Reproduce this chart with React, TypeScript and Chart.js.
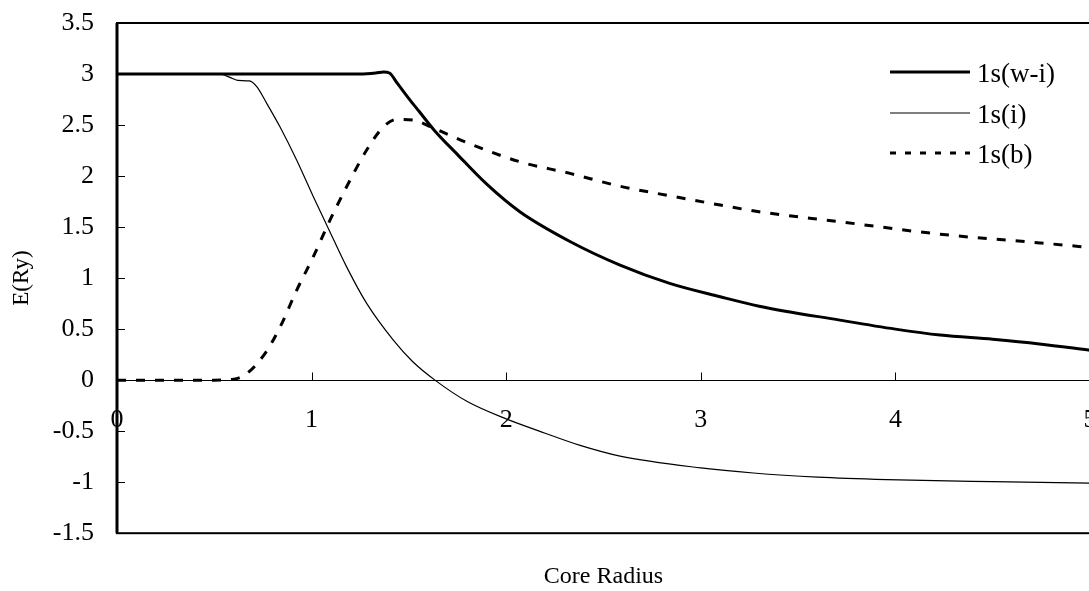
import React, { useEffect, useRef } from "react";
import { Chart, registerables } from "chart.js";

Chart.register(...registerables);

// ---- data ----
const seriesLabels = ["1s(w-i)", "1s(i)", "1s(b)"];
const xTickValues = [0, 1, 2, 3, 4, 5];
const yTickValues = [-1.5, -1, -0.5, 0, 0.5, 1, 1.5, 2, 2.5, 3, 3.5];

const wiRadius = [0, 0.5, 1.0, 1.25, 1.33, 1.37, 1.40, 1.44, 1.52, 1.55, 1.63, 1.75, 1.90, 2.07, 2.33, 2.585, 2.84, 3.1, 3.3, 3.715, 4.0, 4.23, 4.5, 4.74, 5.0];
const wiEnergy = [3, 3, 3, 3, 3.01, 3.02, 3.01, 2.91, 2.71, 2.64, 2.45, 2.21, 1.92, 1.65, 1.356, 1.127, 0.948, 0.817, 0.725, 0.588, 0.5, 0.442, 0.4, 0.355, 0.294];

const iRadius = [0, 0.5, 0.54, 0.58, 0.62, 0.68, 0.718, 0.77, 0.838, 0.923, 1.009, 1.086, 1.18, 1.283, 1.42, 1.52, 1.634, 1.8, 2.0, 2.2, 2.38, 2.585, 3.0, 3.27, 3.6, 3.955, 4.5, 5.0];
const iEnergy = [3, 3, 2.995, 2.967, 2.938, 2.932, 2.876, 2.71, 2.48, 2.157, 1.797, 1.487, 1.11, 0.752, 0.392, 0.18, 0, -0.21, -0.38, -0.52, -0.64, -0.745, -0.86, -0.91, -0.95, -0.974, -0.995, -1.01];

const bRadius = [0, 0.5, 0.6, 0.667, 0.76, 0.838, 0.923, 1.009, 1.095, 1.18, 1.283, 1.368, 1.437, 1.52, 1.626, 1.814, 2.07, 2.328, 2.585, 2.84, 3.1, 3.3, 3.715, 4.23, 4.743, 5.0];
const bEnergy = [0, 0, 0.01, 0.065, 0.26, 0.52, 0.88, 1.21, 1.57, 1.895, 2.255, 2.48, 2.555, 2.55, 2.47, 2.316, 2.14, 2.026, 1.9, 1.807, 1.716, 1.65, 1.552, 1.43, 1.345, 1.3];

const FONT = "'Liberation Serif', 'Times New Roman', serif";

const toPoints = (xs: number[], ys: number[]) => xs.map((x, i) => ({ x, y: ys[i] }));

const framePlugin = {
  id: "frameAndLegend",
  afterDraw(chart: any) {
    const { ctx, chartArea: a, scales } = chart;
    const xs = scales.x;
    const ys = scales.y;
    ctx.save();
    ctx.strokeStyle = "#000";
    ctx.setLineDash([]);
    // inner tick marks
    ctx.lineWidth = 1;
    const y0 = Math.round(ys.getPixelForValue(0)) + 0.5;
    xs.ticks.forEach((t: any) => {
      const px = Math.round(xs.getPixelForValue(t.value)) + 0.5;
      ctx.beginPath();
      ctx.moveTo(px, y0);
      ctx.lineTo(px, y0 - 8);
      ctx.stroke();
    });
    ys.ticks.forEach((t: any) => {
      const py = Math.round(ys.getPixelForValue(t.value)) + 0.5;
      ctx.beginPath();
      ctx.moveTo(a.left, py);
      ctx.lineTo(a.left + 8, py);
      ctx.stroke();
    });
    // frame
    ctx.lineWidth = 2;
    ctx.strokeRect(a.left, a.top, a.right - a.left, a.bottom - a.top);
    ctx.lineWidth = 3;
    ctx.beginPath();
    ctx.moveTo(a.left, a.top);
    ctx.lineTo(a.left, a.bottom);
    ctx.stroke();

    // legend
    const lx0 = 890;
    const lx1 = 970;
    const rows = [72, 113, 153];
    ctx.font = `27px ${FONT}`;
    ctx.fillStyle = "#000";
    ctx.textAlign = "left";
    ctx.textBaseline = "middle";
    chart.data.datasets.forEach((ds: any, i: number) => {
      const y = rows[i];
      ctx.lineWidth = ds.borderWidth;
      ctx.setLineDash(i === 2 ? [6, 9] : []);
      ctx.beginPath();
      ctx.moveTo(lx0, y);
      ctx.lineTo(lx1, y);
      ctx.stroke();
      ctx.setLineDash([]);
      ctx.fillText(ds.label, 977, y + 3);
    });
    ctx.restore();
  },
};

export default function App() {
  const ref = useRef<HTMLCanvasElement>(null);

  useEffect(() => {
    if (!ref.current) return;
    const chart = new Chart(ref.current, {
      type: "line",
      data: {
        datasets: [
          {
            label: seriesLabels[0],
            data: toPoints(wiRadius, wiEnergy),
            borderColor: "#000",
            borderWidth: 3,
            pointRadius: 0,
            fill: false,
            cubicInterpolationMode: "monotone",
          },
          {
            label: seriesLabels[1],
            data: toPoints(iRadius, iEnergy),
            borderColor: "#000",
            borderWidth: 1.2,
            pointRadius: 0,
            fill: false,
            cubicInterpolationMode: "monotone",
          },
          {
            label: seriesLabels[2],
            data: toPoints(bRadius, bEnergy),
            borderColor: "#000",
            borderWidth: 3,
            borderDash: [9, 10],
            pointRadius: 0,
            fill: false,
            cubicInterpolationMode: "monotone",
          },
        ],
      },
      options: {
        animation: false,
        responsive: false,
        devicePixelRatio: 1,
        layout: { padding: { top: 23, right: 10, left: 0, bottom: 0 } },
        plugins: {
          legend: { display: false },
          tooltip: { enabled: false },
          title: {
            display: true,
            text: "Core Radius",
            position: "bottom",
            fullSize: false,
            color: "#000",
            font: { family: FONT, size: 24, weight: "normal" },
            padding: { top: 29, bottom: 0 },
          },
        },
        scales: {
          x: {
            type: "linear",
            min: 0,
            max: 5,
            position: { y: 0 } as any,
            afterBuildTicks: (s: any) => {
              s.ticks = xTickValues.map((v) => ({ value: v }));
            },
            afterFit: (s: any) => {
              s.paddingLeft = 0;
              s.paddingRight = 0;
            },
            grid: { display: true, drawOnChartArea: false, drawTicks: false },
            border: { display: true, color: "#000", width: 1 },
            ticks: {
              padding: 24,
              color: "#000",
              autoSkip: false,
              maxRotation: 0,
              font: { family: FONT, size: 26 },
              callback: (v: any) => String(v),
            },
          },
          y: {
            type: "linear",
            min: -1.5,
            max: 3.5,
            position: "left",
            afterBuildTicks: (s: any) => {
              s.ticks = yTickValues.map((v) => ({ value: v }));
            },
            afterFit: (s: any) => {
              s.width = 117;
              s.paddingTop = 0;
              s.paddingBottom = 0;
            },
            grid: { display: true, drawOnChartArea: false, drawTicks: false },
            border: { display: false },
            ticks: {
              padding: 23,
              color: "#000",
              font: { family: FONT, size: 26 },
              callback: (v: any) => String(v),
            },
            title: {
              display: true,
              text: "E(Ry)",
              color: "#000",
              font: { family: FONT, size: 23 },
              padding: { top: 8, bottom: 0 },
            },
          },
        },
      },
      plugins: [framePlugin],
    });
    return () => chart.destroy();
  }, []);

  return (
    <div
      style={{
        position: "fixed",
        left: 0,
        top: 0,
        width: 1089,
        height: 591,
        overflow: "hidden",
        background: "#fff",
      }}
    >
      <canvas ref={ref} width={1100} height={591} style={{ display: "block" }} />
    </div>
  );
}
